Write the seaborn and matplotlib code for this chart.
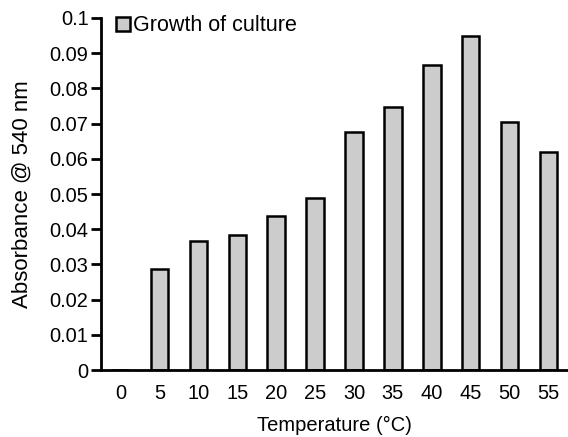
import matplotlib
matplotlib.use("Agg")
import matplotlib.pyplot as plt
import seaborn as sns
import pandas as pd

temperatures = ["0", "5", "10", "15", "20", "25", "30", "35", "40", "45", "50", "55"]
absorbance = [0.0, 0.0287, 0.0367, 0.0383, 0.0437, 0.0488, 0.0675, 0.0746, 0.0865, 0.0948, 0.0704, 0.0618]
y_ticks = [0, 0.01, 0.02, 0.03, 0.04, 0.05, 0.06, 0.07, 0.08, 0.09, 0.1]
y_tick_labels = ["0", "0.01", "0.02", "0.03", "0.04", "0.05", "0.06", "0.07", "0.08", "0.09", "0.1"]

sns.set_style("white")
plt.rcParams['font.family'] = ['Liberation Sans', 'DejaVu Sans']
plt.rcParams['text.color'] = 'black'
plt.rcParams['axes.labelcolor'] = 'black'

df = pd.DataFrame({"Temperature": temperatures, "Absorbance": absorbance})

fig = plt.figure(figsize=(5.68, 4.37), dpi=100)
ax = fig.add_axes([0.178, 0.153, 0.822, 0.806])

sns.barplot(data=df, x="Temperature", y="Absorbance", order=temperatures,
            color="#cccccc", edgecolor="black", linewidth=1.8, width=0.45,
            saturation=1, label="Growth of culture", ax=ax)

ax.set_xlim(-0.5, 11.5)
ax.set_ylim(0, 0.1)
ax.set_yticks(y_ticks)
ax.set_yticklabels(y_tick_labels)

for s in ["top", "right"]:
    ax.spines[s].set_visible(False)
for s in ["left", "bottom"]:
    ax.spines[s].set_linewidth(2)
    ax.spines[s].set_color("black")

ax.tick_params(axis="y", which="both", left=True, length=7, width=2, labelsize=14.4, pad=2,
               colors="black", labelcolor="black")
ax.tick_params(axis="x", which="both", bottom=False, length=0, labelsize=14.4, pad=10,
               colors="black", labelcolor="black")

ax.set_xlabel("Temperature (°C)", fontsize=14.5, labelpad=9, color="black")
ax.set_ylabel("Absorbance @ 540 nm", fontsize=16, labelpad=12, color="black")

leg = ax.legend(loc="upper left", bbox_to_anchor=(0.0, 1.05), frameon=False,
                fontsize=15.5, handlelength=0.65, handleheight=0.65, handletextpad=0.15,
                borderaxespad=0.3)
for t in leg.get_texts():
    t.set_color("black")

fig.savefig("out.png", dpi=100)
